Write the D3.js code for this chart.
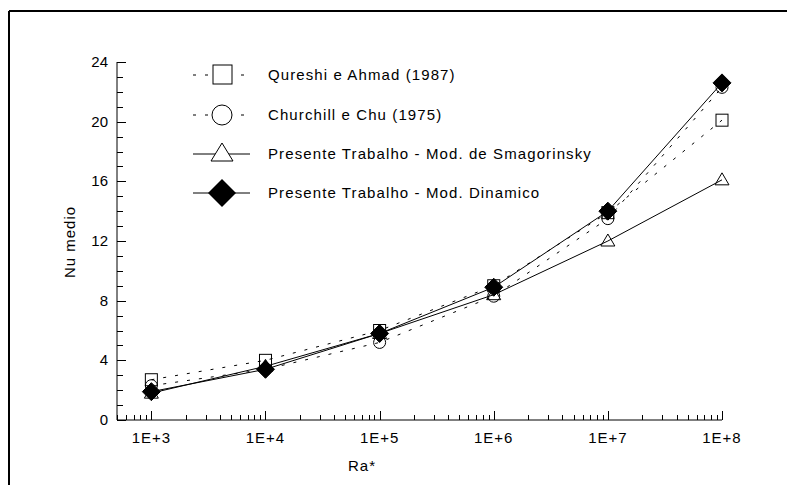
<!DOCTYPE html>
<html><head><meta charset="utf-8">
<script src="https://cdn.jsdelivr.net/npm/d3@7"></script>
<style>
body{margin:0;background:#fff;}
text{font-family:"Liberation Sans Narrow","Arial Narrow","Liberation Sans",Arial,sans-serif;fill:#000;}
</style></head>
<body><svg id="c" width="787" height="485"></svg>
<script>
const raValues = [1e3, 1e4, 1e5, 1e6, 1e7, 1e8];
const xTickLabels = ["1E+3","1E+4","1E+5","1E+6","1E+7","1E+8"];
const yTicks = [0,4,8,12,16,20,24];
const qureshi = [2.7, 4.0, 6.0, 9.0, 13.9, 20.1];
const churchill = [2.3, 3.4, 5.2, 8.3, 13.5, 22.3];
const smagorinsky = [1.8, 3.6, 5.8, 8.4, 12.0, 16.1];
const dinamico = [1.9, 3.4, 5.8, 8.9, 14.0, 22.6];
const seriesNames = ["Qureshi e Ahmad (1987)","Churchill e Chu (1975)","Presente Trabalho - Mod. de Smagorinsky","Presente Trabalho - Mod. Dinamico"];

const svg = d3.select("#c");
const x = d3.scaleLog().domain([500, 1e8]).range([117, 722]);
const y = d3.scaleLinear().domain([0, 24]).range([420, 62]);

// frame (top and left lines)
svg.append("line").attr("x1",9).attr("x2",787).attr("y1",11).attr("y2",11).attr("stroke","#000").attr("stroke-width",2);
svg.append("line").attr("x1",9).attr("x2",9).attr("y1",11).attr("y2",485).attr("stroke","#000").attr("stroke-width",2);

// axes lines
svg.append("line").attr("x1",117).attr("x2",722).attr("y1",y(0)).attr("y2",y(0)).attr("stroke","#000");
svg.append("line").attr("x1",117).attr("x2",117).attr("y1",y(0)).attr("y2",y(24)).attr("stroke","#000");

// y ticks (inward)
const yMinor = d3.range(0, 25, 1);
svg.append("g").selectAll("line").data(yMinor).join("line")
  .attr("x1",117).attr("x2",d=>117+(d%4===0?9:6))
  .attr("y1",d=>Math.round(y(d))+0.5).attr("y2",d=>Math.round(y(d))+0.5)
  .attr("stroke","#000");
svg.append("g").selectAll("text").data(yTicks).join("text")
  .attr("x",108).attr("y",d=>y(d)+5).attr("text-anchor","end")
  .attr("font-size",15).text(d=>d);

// x ticks (log, inward)
const xMinor = [];
for (let e = 2; e <= 8; e++) for (let m = 1; m <= 9; m++) { const v = m*Math.pow(10,e); if (v>=500 && v<=1e8) xMinor.push(v); }
svg.append("g").selectAll("line").data(xMinor).join("line")
  .attr("x1",d=>Math.round(x(d))+0.5).attr("x2",d=>Math.round(x(d))+0.5)
  .attr("y1",y(0)).attr("y2",d=>y(0)-(raValues.includes(d)?9:5))
  .attr("stroke","#000");
svg.append("g").selectAll("text").data(raValues).join("text")
  .attr("x",d=>x(d)).attr("y",443).attr("text-anchor","middle")
  .attr("font-size",15).attr("letter-spacing",1).text((d,i)=>xTickLabels[i]);

svg.append("text").attr("x",362).attr("y",471).attr("text-anchor","middle").attr("font-size",15).attr("letter-spacing",1).text("Ra*");
svg.append("text").attr("transform","translate(75,242) rotate(-90)").attr("text-anchor","middle").attr("font-size",15).attr("letter-spacing",1).text("Nu medio");

const line = d3.line().x((d,i)=>x(raValues[i])).y(d=>y(d));
const series = [
  {v:qureshi, dash:"3,9", sym:"square"},
  {v:churchill, dash:"3,9", sym:"circle"},
  {v:smagorinsky, dash:null, sym:"triangle"},
  {v:dinamico, dash:null, sym:"diamond"}
];

function drawSym(g, sym, cx, cy){
  if (sym==="square") g.append("rect").attr("x",cx-6).attr("y",cy-6).attr("width",12).attr("height",12).attr("fill","none").attr("stroke","#000");
  else if (sym==="circle") g.append("circle").attr("cx",cx).attr("cy",cy).attr("r",6).attr("fill","none").attr("stroke","#000");
  else if (sym==="triangle") g.append("path").attr("d",`M${cx},${cy-7}L${cx+7},${cy+5}L${cx-7},${cy+5}Z`).attr("fill","none").attr("stroke","#000");
  else g.append("path").attr("d",`M${cx},${cy-9}L${cx+9},${cy}L${cx},${cy+9}L${cx-9},${cy}Z`).attr("fill","#000").attr("stroke","#000");
}

series.forEach(s=>{
  svg.append("path").attr("d",line(s.v)).attr("fill","none").attr("stroke","#000").attr("stroke-width",1)
    .attr("stroke-dasharray",s.dash);
});
series.forEach(s=>{
  const g = svg.append("g");
  s.v.forEach((v,i)=>drawSym(g, s.sym, x(raValues[i]), y(v)));
});

// legend
const legY = [75, 115, 154, 193];
series.forEach((s,i)=>{
  const g = svg.append("g");
  g.append("line").attr("x1",193).attr("x2",250).attr("y1",legY[i]).attr("y2",legY[i])
    .attr("stroke","#000").attr("stroke-dasharray",s.dash);
  if (s.sym==="square") g.append("rect").attr("x",213).attr("y",legY[i]-10).attr("width",19).attr("height",19).attr("fill","#fff").attr("stroke","#000");
  else if (s.sym==="circle") g.append("circle").attr("cx",222).attr("cy",legY[i]).attr("r",10).attr("fill","#fff").attr("stroke","#000");
  else if (s.sym==="triangle") g.append("path").attr("d",`M222,${legY[i]-11}L233,${legY[i]+7}L211,${legY[i]+7}Z`).attr("fill","#fff").attr("stroke","#000");
  else g.append("path").attr("d",`M222,${legY[i]-14}L236,${legY[i]}L222,${legY[i]+14}L208,${legY[i]}Z`).attr("fill","#000");
  g.append("text").attr("x",268).attr("y",legY[i]+5).attr("font-size",15).attr("letter-spacing",1.1).text(seriesNames[i]);
});
</script></body></html>
